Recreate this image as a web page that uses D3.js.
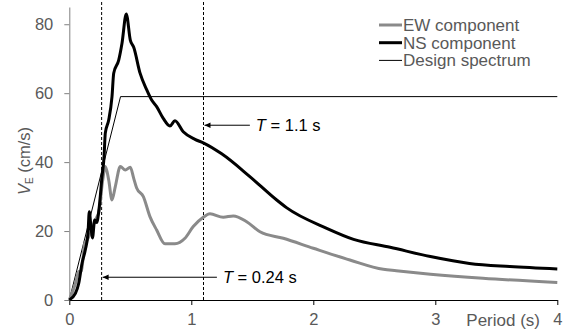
<!DOCTYPE html>
<html>
<head>
<meta charset="utf-8">
<script src="https://cdn.jsdelivr.net/npm/d3@7"></script>
<style>
  body { margin: 0; background: #fff; }
  text { font-family: "Liberation Sans", Arial, sans-serif; }
</style>
</head>
<body>
<div id="chart"></div>
<script>
// periods (s) and velocity values (cm/s)
const nsPeriod = [0, 0.05, 0.077, 0.104, 0.131, 0.153, 0.164, 0.178, 0.19, 0.208, 0.225, 0.244, 0.268, 0.285, 0.295, 0.323, 0.35, 0.364, 0.405, 0.432, 0.467, 0.5, 0.528, 0.58, 0.634, 0.675, 0.716, 0.77, 0.825, 0.866, 0.934, 1.03, 1.098, 1.249, 1.48, 1.7, 1.78, 2.11, 2.33, 2.63, 2.96, 3.28, 3.61, 4.0];
const nsValue  = [0, 1.9, 4.8, 10.6, 14.5, 19.3, 25.6, 21, 18, 23.2, 22.5, 26.5, 35.8, 41.6, 48.4, 52.2, 59, 65.8, 69.6, 74.5, 83, 75.4, 73.3, 65.8, 61, 58, 56.1, 52.7, 50.5, 52, 48.8, 46.6, 45.6, 42.4, 35.8, 29, 26.8, 20.8, 17.6, 15.3, 12.6, 10.6, 9.7, 9.0];

const ewPeriod = [0, 0.05, 0.077, 0.1, 0.126, 0.145, 0.17, 0.2, 0.227, 0.241, 0.274, 0.296, 0.323, 0.35, 0.377, 0.418, 0.459, 0.5, 0.528, 0.552, 0.607, 0.661, 0.716, 0.784, 0.866, 0.948, 1.016, 1.098, 1.153, 1.262, 1.344, 1.454, 1.563, 1.754, 2.0, 2.3, 2.574, 2.68, 2.96, 3.39, 4.0];
const ewValue  = [0, 4.8, 8.2, 8.5, 16.4, 17.4, 19, 22, 24.2, 25.2, 34.8, 38.7, 34.8, 29, 32.9, 38.7, 37.7, 38.5, 35.3, 32.5, 30, 24.2, 20.3, 16.3, 16.3, 17.9, 21.3, 24, 25, 24, 24.4, 22.7, 19.8, 17.9, 15, 11.6, 8.9, 8.5, 7.5, 6.3, 5.1];

const designPeriod = [0, 0.42, 4.0];
const designValue  = [0, 59, 59];

const xTicks = [0, 1, 2, 3, 4];
const yTicks = [0, 20, 40, 60, 80];

const seriesNames = ['EW component', 'NS component', 'Design spectrum'];

// marked periods and their arrows: line period, arrow tail period, arrow height, label
const markPeriod = [0.265, 1.1];
const markTail   = [1.21, 1.48];
const markLevel  = [6.6, 50.7];
const markLabel  = ['0.24', '1.1'];

const W = 563, H = 331;
const X0 = 69.3, X1 = 557.3, Y0 = 300, Y1 = 7;
const TEXT = '#595959';

const svg = d3.select('#chart').append('svg')
  .attr('width', W).attr('height', H);

const x = d3.scaleLinear().domain([0, 4]).range([X0, X1]);
const y = d3.scaleLinear().domain([0, 85]).range([Y0, Y1]);

// axes
const xAxis = svg.append('g')
  .attr('transform', `translate(0, ${Y0})`)
  .call(d3.axisBottom(x).tickValues(xTicks).tickFormat(d3.format('d'))
    .tickSize(5).tickPadding(8).tickSizeOuter(0));
const yAxis = svg.append('g')
  .attr('transform', `translate(${X0}, 0)`)
  .call(d3.axisLeft(y).tickValues(yTicks).tickFormat(d3.format('d'))
    .tickSize(5).tickPadding(11).tickSizeOuter(0));

xAxis.select('.domain').attr('stroke', '#000');
xAxis.selectAll('.tick line').attr('stroke', '#000');
yAxis.select('.domain').attr('stroke', '#808080');
yAxis.selectAll('.tick line').attr('stroke', '#808080');
svg.selectAll('.tick text')
  .attr('font-size', 16.5)
  .attr('font-family', '"Liberation Sans", Arial, sans-serif')
  .attr('fill', TEXT);

// axis titles
svg.append('text')
  .attr('x', 540).attr('y', 326)
  .attr('text-anchor', 'end')
  .attr('font-size', 17).attr('fill', TEXT)
  .text('Period (s)');

const yl = svg.append('text')
  .attr('transform', 'translate(30, 161) rotate(-90)')
  .attr('text-anchor', 'middle')
  .attr('font-size', 16.5).attr('fill', TEXT);
yl.append('tspan').attr('font-style', 'italic').text('V');
yl.append('tspan').attr('font-size', 10).attr('dy', 3).text('E');
yl.append('tspan').attr('dy', -3).text(' (cm/s)');

// dashed period markers
svg.selectAll('.mark')
  .data(markPeriod)
  .enter().append('line')
  .attr('x1', d => x(d)).attr('x2', d => x(d))
  .attr('y1', y(0)).attr('y2', y(87))
  .attr('stroke', '#000').attr('stroke-width', 1)
  .attr('stroke-dasharray', '3,2');

// arrow head, tip at the start of the line
svg.append('defs').append('marker')
  .attr('id', 'arr')
  .attr('viewBox', '0 0 10 10')
  .attr('refX', 0).attr('refY', 5)
  .attr('markerWidth', 7).attr('markerHeight', 6)
  .attr('orient', 'auto')
  .attr('markerUnits', 'userSpaceOnUse')
  .append('path').attr('d', 'M0,5 L10,0.5 L10,9.5 Z').attr('fill', '#000');

const marks = markPeriod.map((p, i) => ({ p, tail: markTail[i], v: markLevel[i], label: markLabel[i] }));

svg.selectAll('.arrow')
  .data(marks)
  .enter().append('line')
  .attr('x1', d => x(d.p) + 1).attr('x2', d => x(d.tail))
  .attr('y1', d => y(d.v)).attr('y2', d => y(d.v))
  .attr('stroke', '#000').attr('stroke-width', 1)
  .attr('marker-start', 'url(#arr)');

const labels = svg.selectAll('.mlabel')
  .data(marks)
  .enter().append('text')
  .attr('x', d => x(d.tail) + 6)
  .attr('y', d => y(d.v) + 6)
  .attr('font-size', 16.5).attr('fill', '#000');
labels.append('tspan').attr('font-style', 'italic').text('T');
labels.append('tspan').text(d => ` = ${d.label} s`);

// series lines
const line = d3.line().x(d => x(d[0])).y(d => y(d[1]));
const smooth = d3.line().x(d => x(d[0])).y(d => y(d[1])).curve(d3.curveMonotoneX);

svg.append('path')
  .datum(designPeriod.map((p, i) => [p, designValue[i]]))
  .attr('d', line)
  .attr('fill', 'none').attr('stroke', '#000').attr('stroke-width', 1);

svg.append('path')
  .datum(ewPeriod.map((p, i) => [p, ewValue[i]]))
  .attr('d', smooth)
  .attr('fill', 'none').attr('stroke', '#8a8a8a').attr('stroke-width', 3)
  .attr('stroke-linejoin', 'round');

svg.append('path')
  .datum(nsPeriod.map((p, i) => [p, nsValue[i]]))
  .attr('d', smooth)
  .attr('fill', 'none').attr('stroke', '#000').attr('stroke-width', 3)
  .attr('stroke-linejoin', 'round');

// legend
const legendStyle = [
  { color: '#8a8a8a', width: 3 },
  { color: '#000', width: 3 },
  { color: '#000', width: 1 }
];
const legend = svg.selectAll('.leg')
  .data(seriesNames)
  .enter().append('g')
  .attr('transform', (d, i) => `translate(379, ${25 + i * 17.7})`);
legend.append('line')
  .attr('x1', 0).attr('x2', 23)
  .attr('stroke', (d, i) => legendStyle[i].color)
  .attr('stroke-width', (d, i) => legendStyle[i].width);
legend.append('text')
  .attr('x', 24).attr('dy', '0.35em')
  .attr('font-size', 17).attr('fill', TEXT)
  .text(d => d);
</script>
</body>
</html>
